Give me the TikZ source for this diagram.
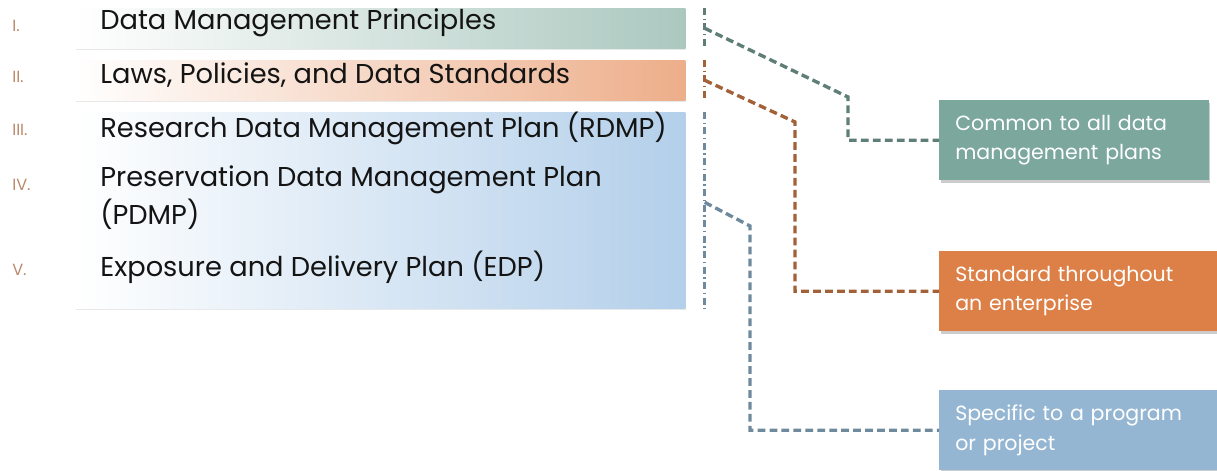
\documentclass[tikz,border=0pt]{standalone}
\usepackage{fontspec}
\setmainfont{Poppins}
\usepackage{xcolor}
\usepackage{tikz}
\usetikzlibrary{positioning, shadows, calc}
\definecolor{plangreen}{HTML}{7BA79D}
\definecolor{planorange}{HTML}{DD8047}
\definecolor{planblue}{HTML}{94B6D2}
\definecolor{bandgreen}{HTML}{ABC8BF}
\definecolor{bandorange}{HTML}{EDAE8A}
\definecolor{bandblue}{HTML}{B3CFEA}
\definecolor{linegreen}{HTML}{5E7E77}
\definecolor{lineorange}{HTML}{A3613A}
\definecolor{lineblue}{HTML}{6F8A9C}
\definecolor{numeral}{HTML}{BA8A6C}

\begin{document}
\begin{tikzpicture}[
    x=0.025cm, y=-0.025cm,
    band/.style={draw=none,inner sep=0pt,anchor=north west,left color=white,minimum width=15.25cm,
      drop shadow={shadow xshift=0.3pt,shadow yshift=-0.9pt,opacity=0.18}},
    item/.style={anchor=west,inner sep=0pt,font=\fontsize{19.4}{22}\selectfont,text=black!92},
    numbr/.style={anchor=west,inner sep=0pt,font=\fontsize{11.5}{12}\selectfont,text=numeral},
    scope/.style={minimum height=2cm,inner xsep=0.4cm,inner ysep=0pt,anchor=north west,
      align=left,text=white,font=\fontsize{14.6}{21}\selectfont,
      drop shadow={shadow xshift=1.2pt,shadow yshift=-1.8pt,opacity=0.4}},
    link/.style={line width=2.4pt,dash pattern=on 5.5pt off 3pt},
    brace/.style={line width=2.4pt,dash pattern=on 5pt off 2.5pt on 1pt off 2.5pt}
  ]
    \useasboundingbox (0,0) rectangle (1217,471);

    % shaded bands behind the list
    \node[band,right color=bandgreen,minimum height=1cm] (band1) at (75,8) {};
    \node[band,right color=bandorange,minimum height=1cm] (band2) at (75,60) {};
    \node[band,right color=bandblue,minimum height=4.9cm] (band3) at (75,112) {};

    % list
    \node[numbr] (n1) at (12,26) {I.};
    \node[numbr] (n2) at (12,77) {II.};
    \node[numbr] (n3) at (12,130) {III.};
    \node[numbr] (n4) at (12,185) {IV.};
    \node[numbr] (n5) at (12,270) {V.};
    \node[item] (i1) at (100,23) {Data Management Principles};
    \node[item] (i2) at (100,75) {Laws, Policies, and Data Standards};
    \node[item] (i3) at (100,128) {Research Data Management Plan (RDMP)};
    \node[item] (i4) at (100,180) {Preservation Data Management Plan};
    \node[item] (i4b) at (100,214) {(PDMP)};
    \node[item] (i5) at (100,267) {Exposure and Delivery Plan (EDP)};

    % scope boxes
    \node[scope,fill=plangreen,text width=5.93cm] (common) at (939,100) {Common to all data\\management plans};
    \node[scope,fill=planorange,text width=6.15cm] (enterprise) at (939,251) {Standard throughout\\an enterprise};
    \node[scope,fill=planblue,text width=6.15cm] (project) at (939,390) {Specific to a program\\or project};

    % brackets next to the bands
    \draw[brace,linegreen] ($(band1.north east)+(19,0)$) -- ($(band1.south east)+(19,0)$);
    \draw[brace,lineorange] ($(band2.north east)+(19,0)$) -- ($(band2.south east)+(19,0)$);
    \draw[brace,lineblue] ($(band3.north east)+(19,0)$) -- ($(band3.south east)+(19,0)$);

    % connectors
    \coordinate (g0) at ($(band1.east)+(19,0)$);
    \coordinate (g1) at (848,97);
    \coordinate (o0) at ($(band2.east)+(19,0)$);
    \coordinate (o1) at (795,122);
    \coordinate (b0) at ($(band3.east)+(19,-8)$);
    \coordinate (b1) at (750,226);
    \draw[link,linegreen] (g0) -- (g1) |- (common.west);
    \draw[link,lineorange] (o0) -- (o1) |- (enterprise.west);
    \draw[link,lineblue] (b0) -- (b1) |- (project.west);
\end{tikzpicture}
\end{document}
